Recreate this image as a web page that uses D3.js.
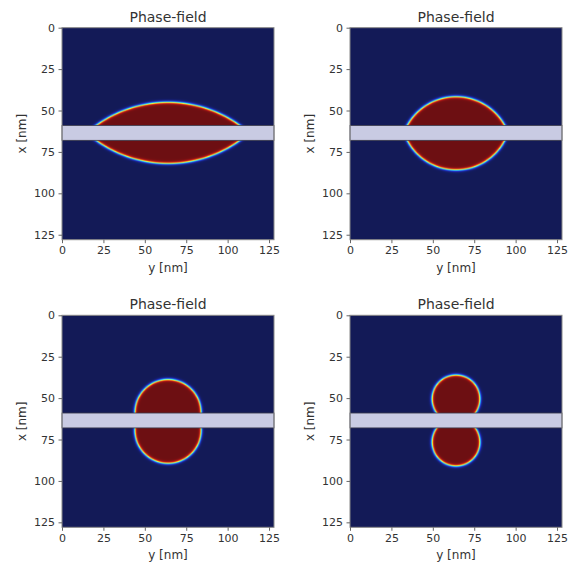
<!DOCTYPE html>
<meta charset="utf-8">
<script src="https://d3js.org/d3.v7.min.js"></script>
<style>
  body { margin: 0; background: #fff; }
  text { font-family: "DejaVu Sans", sans-serif; fill: #333; }
</style>
<svg id="chart" width="579" height="565"></svg>
<script>

// Data (all in nm)
var titles = ["Phase-field", "Phase-field", "Phase-field", "Phase-field"];
var tickValues = [0, 25, 50, 75, 100, 125];
var gridSize = 128;
var barTop = 59, barBottom = 68;     // the lavender membrane
var centreY = 64;                     // column where the drop sits
var contactHalf = [43.5, 29.5, 20, 11.7];   // half width of the drop where it meets the bar
var apexTop = [45, 41.6, 38.7, 36];         // top of the upper cap
var apexBottom = [82, 85.9, 89.4, 91];      // bottom of the lower cap

// panel frames
var panels = [
  {left: 62, top: 27.7},
  {left: 350, top: 27.7},
  {left: 62, top: 315.3},
  {left: 350, top: 315.3}
];
var size = 212;

var svg = d3.select("#chart");

// jet-like colormap as it looks in the picture
var jet = d3.scaleLinear()
  .domain([0, 0.12, 0.3, 0.45, 0.6, 0.75, 0.88, 1])
  .range(["#131a57", "#1f2fc8", "#2aa0f0", "#5ef0d0", "#e8f040", "#f08020", "#c81a18", "#6d0f12"])
  .clamp(true);

// circle through the apex and the two contact points
function cap(half, h) {
  return (half * half + h * h) / (2 * h);
}

function phaseImage(i) {
  var n = gridSize * 2;
  var canvas = document.createElement("canvas");
  canvas.width = n; canvas.height = n;
  var ctx = canvas.getContext("2d");
  var img = ctx.createImageData(n, n);
  var hT = barTop - apexTop[i], hB = apexBottom[i] - barBottom;
  var rT = cap(contactHalf[i], hT), rB = cap(contactHalf[i], hB);
  var cT = apexTop[i] + rT, cB = apexBottom[i] - rB;
  var mid = (barTop + barBottom) / 2;
  var w = 0.9;
  for (var r = 0; r < n; r++) {
    var x = (r + 0.5) * gridSize / n;
    for (var c = 0; c < n; c++) {
      var y = (c + 0.5) * gridSize / n;
      // caps are cut in the middle of the bar, so the cut stays hidden
      var dT = Math.max(Math.hypot(x - cT, y - centreY) - rT, x - mid);
      var dB = Math.max(Math.hypot(x - cB, y - centreY) - rB, mid - x);
      var d = Math.min(dT, dB);
      var phi = 0.5 * (1 - Math.tanh(d / w));
      var col = d3.rgb(jet(phi));
      var k = (r * n + c) * 4;
      img.data[k] = col.r; img.data[k + 1] = col.g; img.data[k + 2] = col.b; img.data[k + 3] = 255;
    }
  }
  ctx.putImageData(img, 0, 0);
  return canvas.toDataURL();
}

panels.forEach(function(p, i) {
  var xScale = d3.scaleLinear().domain([0, gridSize]).range([0, size]);
  var yScale = d3.scaleLinear().domain([0, gridSize]).range([0, size]);

  var g = svg.append("g").attr("transform", "translate(" + p.left + "," + p.top + ")");

  g.append("image")
    .attr("x", xScale(0)).attr("y", yScale(0))
    .attr("width", xScale(gridSize) - xScale(0))
    .attr("height", yScale(gridSize) - yScale(0))
    .attr("preserveAspectRatio", "none")
    .attr("href", phaseImage(i));

  // membrane
  g.append("rect")
    .attr("x", xScale(0)).attr("y", yScale(barTop))
    .attr("width", xScale(gridSize) - xScale(0))
    .attr("height", yScale(barBottom) - yScale(barTop))
    .attr("fill", "#c9cbe3")
    .attr("stroke", "#3a3a4a")
    .attr("stroke-width", 0.8);

  // frame
  g.append("rect")
    .attr("width", size).attr("height", size)
    .attr("fill", "none").attr("stroke", "#888").attr("stroke-width", 1);

  var xAxis = g.append("g")
    .attr("transform", "translate(0," + size + ")")
    .call(d3.axisBottom(xScale).tickValues(tickValues).tickSize(3.5).tickPadding(3.5));
  var yAxis = g.append("g")
    .call(d3.axisLeft(yScale).tickValues(tickValues).tickSize(3.5).tickPadding(3.5));

  [xAxis, yAxis].forEach(function(a) {
    a.select(".domain").remove();
    a.selectAll("line").attr("stroke", "#666");
    a.selectAll("text").style("font-size", "11px")
      .style("font-family", "DejaVu Sans, sans-serif").attr("fill", "#333");
  });

  g.append("text")
    .attr("x", size / 2).attr("y", -6)
    .attr("text-anchor", "middle")
    .style("font-size", "14px")
    .text(titles[i]);

  g.append("text")
    .attr("x", size / 2).attr("y", size + 32)
    .attr("text-anchor", "middle")
    .style("font-size", "12px")
    .text("y [nm]");

  g.append("text")
    .attr("transform", "translate(-36," + (size / 2) + ") rotate(-90)")
    .attr("text-anchor", "middle")
    .style("font-size", "12px")
    .text("x [nm]");
});

</script>
